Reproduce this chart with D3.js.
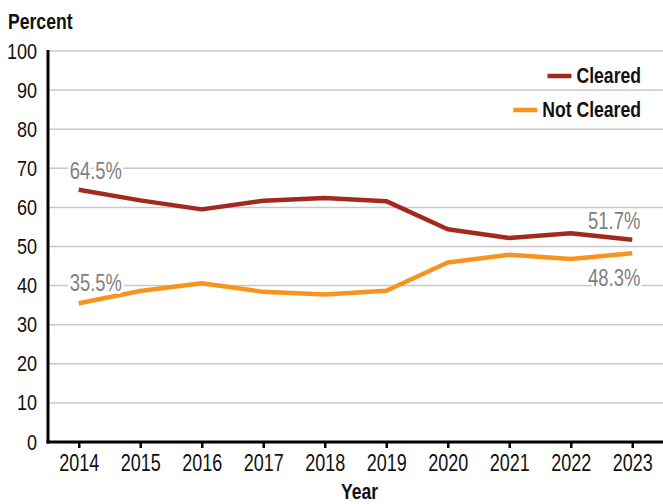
<!DOCTYPE html>
<html><head><meta charset="utf-8">
<script src="https://cdn.jsdelivr.net/npm/d3@7"></script>
<style>
body{margin:0;background:#fff;}
text{font-family:"Liberation Sans",Arial,sans-serif;}
</style></head>
<body>
<svg id="c" width="663" height="504"></svg>
<script>
const years = ["2014","2015","2016","2017","2018","2019","2020","2021","2022","2023"];
const cleared = [64.5,61.8,59.5,61.7,62.4,61.6,54.4,52.2,53.4,51.7];
const notCleared = [35.5,38.6,40.6,38.4,37.7,38.7,45.9,47.9,46.8,48.3];
const yTicks = [0,10,20,30,40,50,60,70,80,90,100];
const seriesNames = ["Cleared","Not Cleared"];
const colors = ["#a3291f","#f7941d"];

(function(){
const svg = d3.select("#c");
const mL = 48, mR = 663, mT = 51, mB = 442;
const SX = 0.8; // horizontal condensing of the font
const ff = '"Liberation Sans",Arial,sans-serif';
const x = d3.scalePoint().domain(years).range([mL, mR]).padding(0.5);
const y = d3.scaleLinear().domain([0,100]).range([mB, mT]);

// gridlines
svg.append("g").selectAll("line").data(yTicks.filter(d=>d>0)).join("line")
  .attr("x1", mL).attr("x2", mR)
  .attr("y1", d=>y(d)).attr("y2", d=>y(d))
  .attr("stroke","#c8c8c8").attr("stroke-width",1.5);

// y axis
const yAxis = svg.append("g").attr("transform",`translate(${mL},0)`)
  .call(d3.axisLeft(y).tickValues(yTicks).tickSize(0).tickPadding(11));
yAxis.select(".domain").remove();
yAxis.selectAll("text").attr("font-size",22).attr("fill","#111")
  .attr("font-family",ff)
  .attr("x", -11/0.82).attr("transform","scale(0.82,1)");

// x axis
const xAxis = svg.append("g").attr("transform",`translate(0,${mB})`)
  .call(d3.axisBottom(x).tickSize(6).tickPadding(6).tickSizeOuter(0));
xAxis.select(".domain").remove();
xAxis.selectAll("line").attr("stroke","#000").attr("stroke-width",2.5);
xAxis.selectAll("text").attr("font-size",24).attr("fill","#111")
  .attr("font-family",ff)
  .attr("transform","scale(0.75,1)");

// axis lines
svg.append("line").attr("x1",mL).attr("x2",mL).attr("y1",mT-1).attr("y2",mB+1.5)
  .attr("stroke","#000").attr("stroke-width",3);
svg.append("line").attr("x1",mL-1.5).attr("x2",mR).attr("y1",mB).attr("y2",mB)
  .attr("stroke","#000").attr("stroke-width",3);

// lines
const line = d3.line().x((d,i)=>x(years[i])).y(d=>y(d));
[cleared, notCleared].forEach((s,k)=>{
  svg.append("path").datum(s).attr("d",line).attr("fill","none")
    .attr("stroke",colors[k]).attr("stroke-width",4.5)
    .attr("stroke-linejoin","round").attr("stroke-linecap","butt");
});

function ctext(xx, yy, txt, size, weight, anchor, fill){
  return svg.append("text").attr("x",xx/SX).attr("y",yy)
    .attr("transform",`scale(${SX},1)`)
    .attr("text-anchor",anchor).attr("font-size",size)
    .attr("font-weight",weight).attr("fill",fill).text(txt);
}

// value labels
function label(txt, xx, yy, anchor){
  ctext(xx, yy, txt, 23, "normal", anchor, "#808080")
    .attr("stroke","#fff").attr("stroke-width",6).attr("paint-order","stroke");
}
label(cleared[0].toFixed(1)+"%", x(years[0])-9, y(cleared[0])-11, "start");
label(notCleared[0].toFixed(1)+"%", x(years[0])-9, y(notCleared[0])-12, "start");
label(cleared[9].toFixed(1)+"%", x(years[9])+8, y(cleared[9])-11, "end");
label(notCleared[9].toFixed(1)+"%", x(years[9])+8, y(notCleared[9])+33, "end");

// legend
const legY = [76, 110];
seriesNames.forEach((n,k)=>{
  const t = ctext(641, legY[k]+7.5, n, 22, "bold", "end", "#111");
  const w = t.node().getComputedTextLength()*SX;
  svg.append("line").attr("x1",641-w-29).attr("x2",641-w-5)
    .attr("y1",legY[k]).attr("y2",legY[k])
    .attr("stroke",colors[k]).attr("stroke-width",4.5);
});

// titles
ctext(8, 29, "Percent", 22, "bold", "start", "#111");
ctext((mL+mR)/2+4, 499, "Year", 22, "bold", "middle", "#111");
})();
</script>
</body></html>
